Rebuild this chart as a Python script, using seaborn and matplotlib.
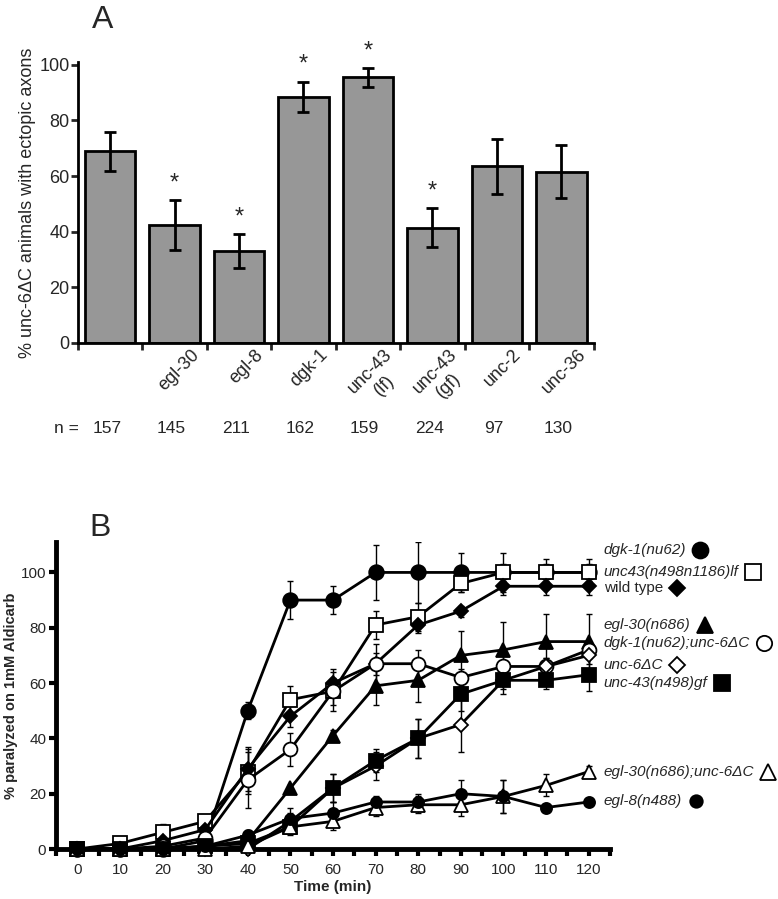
import numpy as np
import pandas as pd
import matplotlib
matplotlib.use("Agg")
import matplotlib.pyplot as plt
import matplotlib.transforms as mtransforms
import seaborn as sns

sns.set_theme(style="ticks")
plt.rcParams['font.family'] = ['Liberation Sans', 'DejaVu Sans']

# ---------------- Panel A data ----------------
genotypes = ['wild type', 'egl-30', 'egl-8', 'dgk-1', 'unc-43 (lf)', 'unc-43 (gf)', 'unc-2', 'unc-36']
tick_labels_a = ['', 'egl-30', 'egl-8', 'dgk-1', 'unc-43\n(lf)', 'unc-43\n(gf)', 'unc-2', 'unc-36']
pct_ectopic = [69, 42.5, 33, 88.5, 95.5, 41.5, 63.5, 61.5]
pct_err = [7, 9, 6, 5.5, 3.4, 7, 10, 9.5]
significant = [False, True, True, True, True, True, False, False]
n_animals = [157, 145, 211, 162, 159, 224, 97, 130]

# ---------------- Panel B data ----------------
time_min = [0, 10, 20, 30, 40, 50, 60, 70, 80, 90, 100, 110, 120]
series_names = ['dgk-1(nu62)', 'unc43(n498n1186)lf', 'wild type', 'egl-30(n686)',
                'dgk-1(nu62);unc-6ΔC', 'unc-6ΔC', 'unc-43(n498)gf',
                'egl-30(n686);unc-6ΔC', 'egl-8(n488)']
dgk1 = [0, 0, 0, 3, 50, 90, 90, 100, 100, 100, 100, 100, 100]
dgk1_err = [0, 0, 0, 1, 3, 7, 5, 10, 11, 7, 7, 5, 5]
unc43lf = [0, 2, 6, 10, 28, 54, 57, 81, 84, 96, 100, 100, 100]
unc43lf_err = [0, 1, 3, 2, 8, 5, 5, 5, 5, 3, 3, 3, 3]
wildtype = [0, 0, 3, 7, 29, 48, 60, 67, 81, 86, 95, 95, 95]
wildtype_err = [0, 0, 1, 2, 8, 4, 5, 4, 3, 2, 3, 3, 3]
egl30 = [0, 0, 0, 1, 3, 22, 41, 59, 61, 70, 72, 75, 75]
egl30_err = [0, 0, 0, 1, 1, 1, 2, 7, 8, 9, 10, 10, 10]
dgk1_unc6 = [0, 0, 1, 4, 25, 36, 57, 67, 67, 62, 66, 66, 72]
dgk1_unc6_err = [0, 0, 1, 2, 10, 6, 7, 7, 5, 3, 4, 3, 3]
unc6 = [0, 0, 0, 0, 0, 10, 22, 30, 40, 45, 61, 66, 70]
unc6_err = [0, 0, 0, 0, 1, 3, 5, 5, 7, 10, 5, 3, 3]
unc43gf = [0, 0, 0, 1, 2, 8, 22, 32, 40, 56, 61, 61, 63]
unc43gf_err = [0, 0, 0, 1, 1, 3, 5, 4, 7, 6, 3, 3, 6]
egl30_unc6 = [0, 0, 0, 0, 1, 8, 10, 15, 16, 16, 19, 23, 28]
egl30_unc6_err = [0, 0, 0, 0, 1, 2, 3, 3, 3, 4, 6, 4, 2]
egl8 = [0, 0, 0, 1, 5, 11, 13, 17, 17, 20, 19, 15, 17]
egl8_err = [0, 0, 0, 1, 2, 4, 4, 2, 3, 5, 6, 1, 1]

series_vals = [dgk1, unc43lf, wildtype, egl30, dgk1_unc6, unc6, unc43gf, egl30_unc6, egl8]
series_errs = [dgk1_err, unc43lf_err, wildtype_err, egl30_err, dgk1_unc6_err,
               unc6_err, unc43gf_err, egl30_unc6_err, egl8_err]

# ---------------- styles / layout ----------------
series_marker = ['o', 's', 'D', '^', 'o', 'D', 's', '^', 'o']
series_filled = [True, False, True, True, False, False, True, False, True]
series_msize = [10.5, 10, 7.5, 10, 10, 7.5, 10, 10, 8]
legend_y = [108, 100, 94.5, 81, 74.5, 66.5, 60, 28, 17.5]
legend_italic = [True, True, False, True, True, True, True, True, True]

fig = plt.figure(figsize=(7.78, 8.99), dpi=100)

# ================= Panel A =================
ax1 = fig.add_axes([0.100, 0.6185, 0.663, 0.3125])
df_a = pd.DataFrame({'genotype': genotypes, 'pct': pct_ectopic})
sns.barplot(data=df_a, x='genotype', y='pct', order=genotypes, color='#979797',
            saturation=1, edgecolor='black', linewidth=2, width=0.78, errorbar=None, ax=ax1)
xs = np.arange(len(genotypes))
ax1.errorbar(xs, pct_ectopic, yerr=pct_err, fmt='none', ecolor='black',
             elinewidth=2, capsize=4, capthick=2, zorder=5)
for i, (v, e, s) in enumerate(zip(pct_ectopic, pct_err, significant)):
    if s:
        ax1.annotate('*', (i, v + e), xytext=(0, 4), textcoords='offset points',
                     ha='center', va='bottom', fontsize=17)
ax1.set_xlim(-0.5, len(genotypes) - 0.5)
ax1.set_ylim(0, 101)
ax1.set_yticks([0, 20, 40, 60, 80, 100])
ax1.tick_params(axis='y', labelsize=13, length=5, width=2, direction='out', pad=1)
ax1.set_xticks(xs)
ax1.set_xticklabels(tick_labels_a, rotation=45, ha='right', rotation_mode='anchor',
                    fontsize=13, multialignment='center')
ax1.tick_params(axis='x', which='major', length=0, pad=6)
ax1.set_xticks(np.arange(-0.5, len(genotypes), 1), minor=True)
ax1.tick_params(axis='x', which='minor', length=5, width=2, direction='out')
off = mtransforms.ScaledTranslation(0.16, 0.05, fig.dpi_scale_trans)
for lab in ax1.get_xticklabels():
    lab.set_transform(lab.get_transform() + off)
ax1.set_xlabel('')
ax1.set_ylabel('% unc-6ΔC animals with ectopic axons', fontsize=13, labelpad=2)
for sp in ['top', 'right']:
    ax1.spines[sp].set_visible(False)
for sp in ['left', 'bottom']:
    ax1.spines[sp].set_linewidth(2)
    ax1.spines[sp].set_color('black')

n_row_y = 1 - 429 / 899
trans_n = mtransforms.blended_transform_factory(ax1.transData, fig.transFigure)
fig.text(0.085, n_row_y, 'n =', fontsize=12.5, ha='center', va='center')
for i, n in enumerate(n_animals):
    ax1.text(i - 0.05, n_row_y, str(n), transform=trans_n, fontsize=12.5,
             ha='center', va='center')

fig.text(103 / 778, 1 - 20 / 899, 'A', fontsize=23, ha='center', va='center')
fig.text(100 / 778, 1 - 528 / 899, 'B', fontsize=23, ha='center', va='center')

# ================= Panel B =================
ax2 = fig.add_axes([0.072, 0.0556, 0.712, 0.3415])
for k, (vals, errs) in enumerate(zip(series_vals, series_errs)):
    dfb = pd.DataFrame({'time': time_min, 'pct': vals})
    ax2.errorbar(time_min, vals, yerr=errs, fmt='none', ecolor='black',
                 elinewidth=1, capsize=2.2, capthick=1, zorder=2 + k * 0.1)
    sns.lineplot(data=dfb, x='time', y='pct', color='black', linewidth=2,
                 marker=series_marker[k], markersize=series_msize[k],
                 markerfacecolor='black' if series_filled[k] else 'white',
                 markeredgecolor='black', markeredgewidth=1.3,
                 ax=ax2, zorder=3 + k * 0.1, clip_on=False)
ax2.set_xlim(-5, 125)
ax2.set_ylim(0, 111)
ax2.set_xticks(np.arange(0, 121, 10))
ax2.set_xticks(np.arange(-5, 126, 5), minor=True)
ax2.set_yticks(np.arange(0, 101, 20))
ax2.tick_params(axis='both', which='both', length=5, width=3, direction='out',
                labelsize=11, color='black')
ax2.tick_params(axis='y', which='major', pad=2)
ax2.tick_params(axis='x', which='major', pad=5)
for sp in ['top', 'right']:
    ax2.spines[sp].set_visible(False)
for sp in ['left', 'bottom']:
    ax2.spines[sp].set_linewidth(3.5)
    ax2.spines[sp].set_color('black')
ax2.set_xlabel('Time (min)', fontsize=11, fontweight='bold', labelpad=2)
ax2.set_ylabel('% paralyzed on 1mM Aldicarb', fontsize=10.5, fontweight='bold', labelpad=2)

# legend-like labels at right
trans_l = mtransforms.blended_transform_factory(ax2.transAxes, ax2.transData)
texts = []
for k, name in enumerate(series_names):
    t = ax2.text(0.989, legend_y[k], name, transform=trans_l, fontsize=11,
                 fontstyle='italic' if legend_italic[k] else 'normal',
                 ha='left', va='center', clip_on=False)
    texts.append(t)
fig.canvas.draw()
renderer = fig.canvas.get_renderer()
inv = ax2.transData.inverted()
for k, t in enumerate(texts):
    bb = t.get_window_extent(renderer)
    xd, _ = inv.transform((bb.x1 + 14, bb.y0))
    ax2.plot([xd], [legend_y[k]], marker=series_marker[k], markersize=series_msize[k] + 1,
             markerfacecolor='black' if series_filled[k] else 'white',
             markeredgecolor='black', markeredgewidth=1.3, linestyle='none', clip_on=False)

fig.savefig('out.png', dpi=100)
